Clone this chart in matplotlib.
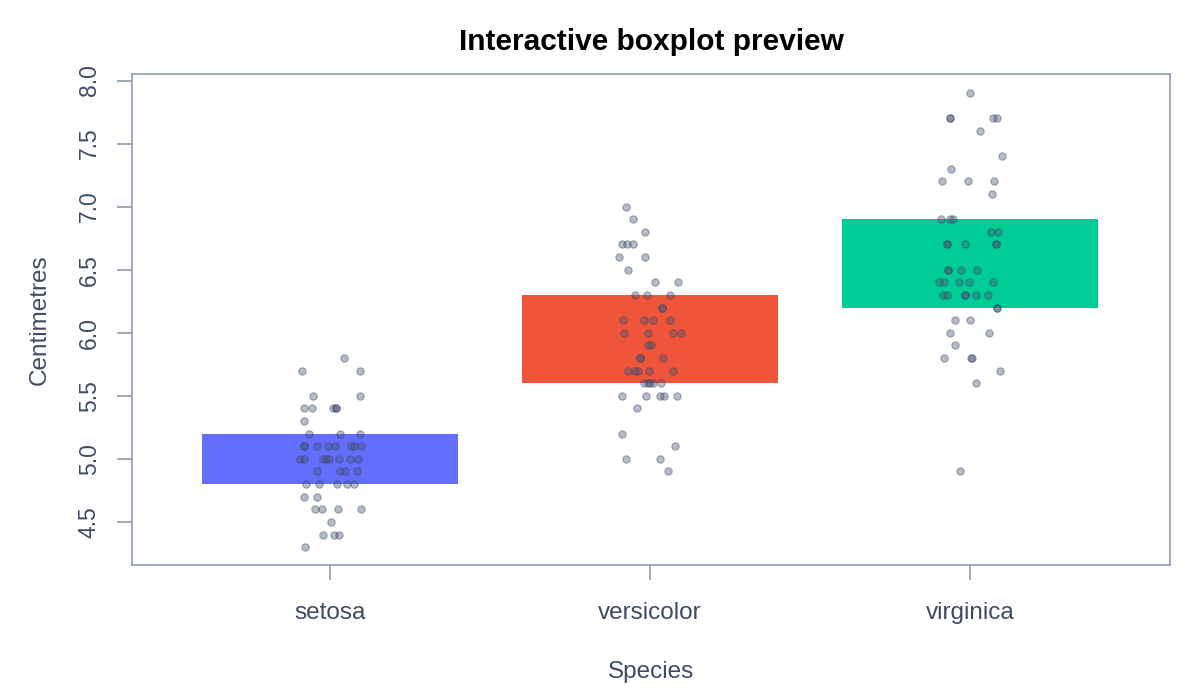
import numpy as np
import matplotlib
matplotlib.use("Agg")
import matplotlib.pyplot as plt

# sepal length (cm) per species
species = ["setosa", "versicolor", "virginica"]
setosa = [5.8, 5.7, 5.7, 5.5, 5.5, 5.4, 5.4, 5.4, 5.4, 5.4, 5.3, 5.2, 5.2, 5.2,
          5.1, 5.1, 5.1, 5.1, 5.1, 5.1, 5.1, 5.1, 5.0, 5.0, 5.0, 5.0, 5.0, 5.0, 5.0, 5.0,
          4.9, 4.9, 4.9, 4.9, 4.8, 4.8, 4.8, 4.8, 4.8, 4.7, 4.7, 4.6, 4.6, 4.6, 4.6,
          4.5, 4.4, 4.4, 4.4, 4.3]
versicolor = [7.0, 6.9, 6.8, 6.7, 6.7, 6.7, 6.6, 6.6, 6.5, 6.4, 6.4, 6.3, 6.3, 6.3,
              6.2, 6.2, 6.1, 6.1, 6.1, 6.1, 6.0, 6.0, 6.0, 6.0, 5.9, 5.9, 5.8, 5.8, 5.8,
              5.7, 5.7, 5.7, 5.7, 5.7, 5.6, 5.6, 5.6, 5.6, 5.6, 5.5, 5.5, 5.5, 5.5, 5.5,
              5.4, 5.2, 5.1, 5.0, 5.0, 4.9]
virginica = [7.9, 7.7, 7.7, 7.7, 7.7, 7.6, 7.4, 7.3, 7.2, 7.2, 7.2, 7.1, 6.9, 6.9, 6.9,
             6.8, 6.8, 6.7, 6.7, 6.7, 6.7, 6.7, 6.5, 6.5, 6.5, 6.5, 6.4, 6.4, 6.4, 6.4, 6.4,
             6.3, 6.3, 6.3, 6.3, 6.3, 6.3, 6.2, 6.2, 6.1, 6.1, 6.0, 6.0, 5.9, 5.8, 5.8, 5.8,
             5.7, 5.6, 4.9]

# horizontal jitter of each point (pixels at 320 px per category)
setosa_jit = [14, -28, 30, -17, 30, -26, -18, 3, 6, 6, -26, -21, 10, 30,
              -26, -26, -13, -2, 5, 21, 24, 31, -30, -26, -7, -4, -1, 9, 20, 28,
              -13, 10, 15, 27, -24, -11, 7, 17, 24, -26, -13, -15, -8, 8, 31,
              1, -7, 4, 9, -25]
versicolor_jit = [-24, -17, -5, -28, -23, -17, -31, -5, -22, 5, 28, -15, -3, 20,
                  12, 12, -27, -6, 3, 20, -26, -2, 23, 31, -2, 1, -10, -10, 13,
                  -22, -15, -12, -1, 23, -6, -2, 0, 3, 11, -28, -4, 10, 14, 27,
                  -13, -28, 25, -24, 10, 18]
virginica_jit = [0, -20, -20, 23, 27, 10, 32, -19, -28, -2, 24, 22, -29, -20, -17,
                 21, 28, -23, -23, -5, 26, 26, -22, -22, -9, 7, -31, -26, -11, -1, 23,
                 -27, -23, -5, -5, 6, 18, 27, 27, -15, 0, -20, 19, -15, -26, 1, 2,
                 30, 6, -10]

box_colors = ["#636efa", "#ef553b", "#00cc96"]
text_col = "#3f4b63"
axis_col = "#8f9bb3"

plt.rcParams["font.family"] = ["Liberation Sans", "DejaVu Sans"]

fig = plt.figure(figsize=(12, 7), dpi=100)
ax = fig.add_axes([0.11, 0.193, 0.865, 0.701])

groups = [setosa, versicolor, virginica]
jits = [setosa_jit, versicolor_jit, virginica_jit]
for i, (vals, jit) in enumerate(zip(groups, jits)):
    q1, q3 = np.percentile(vals, [25, 75], method="lower")
    ax.bar(i, q3 - q1, bottom=q1, width=0.8, color=box_colors[i], zorder=1)
    x = i + np.array(jit) / 320.0
    ax.scatter(x, vals, s=28, color="#4b5573", alpha=0.4, edgecolors="#2a3f5f",
               linewidths=0.8, zorder=2)

ax.set_xlim(-0.619, 2.625)
ax.set_ylim(4.159, 8.05)
ax.set_xticks(range(3))
ax.set_xticklabels(species)
yt = np.arange(4.5, 8.01, 0.5)
ax.set_yticks(yt)
ax.set_yticklabels([f"{v:.1f}" for v in yt], rotation=90, va="center")

for s in ax.spines.values():
    s.set_color(axis_col)
    s.set_linewidth(1.2)
ax.tick_params(axis="both", colors=axis_col, labelcolor=text_col,
               length=11, width=1.2, direction="out")
ax.tick_params(axis="x", labelsize=17.5, pad=16)
ax.tick_params(axis="y", labelsize=16.5, pad=11.5)

ax.set_xlabel("Species", fontsize=17.5, color=text_col)
ax.xaxis.set_label_coords(0.5, -0.195)
ax.set_ylabel("Centimetres", fontsize=17.5, color=text_col)
ax.yaxis.set_label_coords(-0.078, 0.5)
ax.set_title("Interactive boxplot preview", fontsize=21.5, fontweight="bold",
             color="black", pad=17.5)

fig.savefig("out.png", dpi=100, facecolor="white")
